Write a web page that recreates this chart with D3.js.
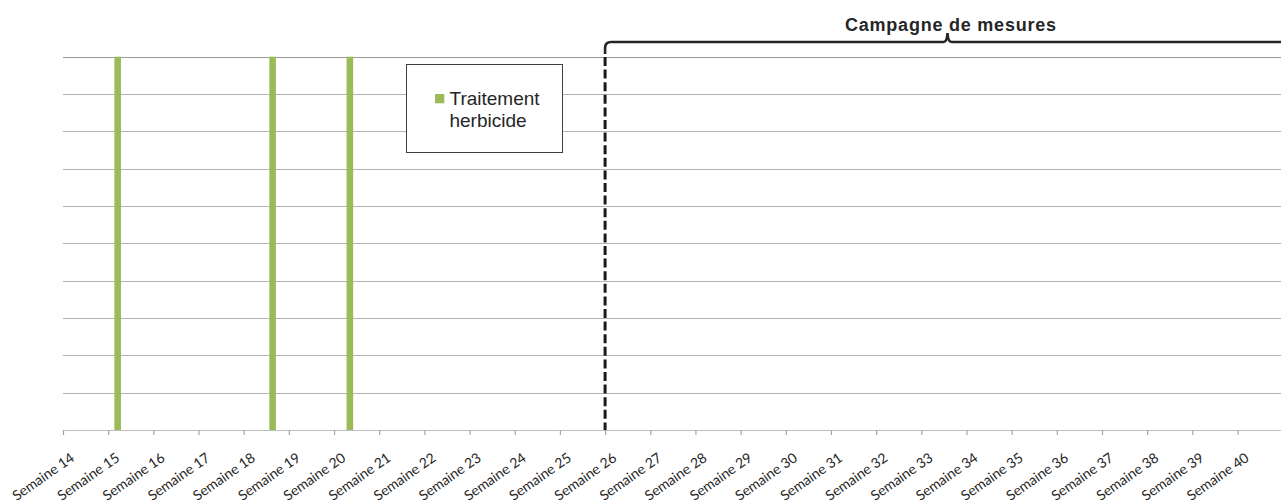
<!DOCTYPE html>
<html>
<head>
<meta charset="utf-8">
<script src="https://cdn.jsdelivr.net/npm/d3@7"></script>
<style>
  html, body { margin: 0; padding: 0; background: #fff; }
  svg { display: block; }
</style>
</head>
<body>
<svg id="chart" width="1281" height="503"></svg>
<script>
// Weeks shown on the category axis
const weeks = d3.range(14, 41);
const weekLabels = weeks.map(w => "Semaine " + w);

// Herbicide treatments (position in weeks) and their bar height
const treatmentWeeks = [15.21, 18.64, 20.35];
const treatmentValues = [1, 1, 1];

// Measurement campaign: start week and end of the bracket
const campaignStart = 26;
const campaignEnd = 41.16;
const campaignTitle = "Campagne de mesures";
const legendLabel = ["Traitement", "herbicide"];

const yTicks = d3.range(0, 1.0001, 0.1);

const W = 1281, H = 503;
const plot = { left: 63, right: 1282.7, top: 56.7, bottom: 430 };

const svg = d3.select("#chart");

const x = d3.scaleLinear().domain([14, 41]).range([plot.left, plot.right]);
const y = d3.scaleLinear().domain([0, 1]).range([plot.bottom, plot.top]);

// Horizontal gridlines
svg.append("g")
  .selectAll("line")
  .data(yTicks.slice(1))
  .join("line")
  .attr("x1", plot.left)
  .attr("x2", W)
  .attr("y1", d => Math.round(y(d)) + 0.5)
  .attr("y2", d => Math.round(y(d)) + 0.5)
  .attr("stroke", (d, i, a) => i === a.length - 1 ? "#9a9a9a" : "#b4b4b4")
  .attr("stroke-width", 1);

// Treatment bars
const barW = 6.6;
svg.append("g")
  .selectAll("rect")
  .data(treatmentWeeks)
  .join("rect")
  .attr("x", d => x(d) - barW / 2)
  .attr("y", (d, i) => y(treatmentValues[i]))
  .attr("width", barW)
  .attr("height", (d, i) => y(0) - y(treatmentValues[i]))
  .attr("fill", "#9BBB59");

// Category axis
const xAxis = d3.axisBottom(x)
  .tickValues(weeks)
  .tickSize(5)
  .tickFormat((d, i) => weekLabels[i]);

const gx = svg.append("g")
  .attr("transform", `translate(0,${plot.bottom})`)
  .call(xAxis);

gx.select(".domain")
  .attr("d", `M${plot.left},0.5H${W}`)
  .attr("stroke", "#bfbfbf")
  .attr("stroke-width", 1.2);
gx.selectAll(".tick line")
  .attr("stroke", "#a6a6a6")
  .attr("stroke-width", 1.2);
gx.selectAll(".tick text")
  .attr("font-family", "Lato, 'Open Sans', sans-serif")
  .attr("font-size", "14px")
  .attr("fill", "#262626")
  .attr("text-anchor", "end")
  .attr("dy", null)
  .attr("y", null)
  .attr("transform", "translate(12,30) rotate(-35)");

// Campaign start: dashed vertical line
const xs = x(campaignStart);
svg.append("line")
  .attr("x1", xs).attr("x2", xs)
  .attr("y1", 57).attr("y2", plot.bottom)
  .attr("stroke", "#1a1a1a")
  .attr("stroke-width", 3)
  .attr("stroke-dasharray", "9,3.6");

// Bracket over the campaign period
const xe = x(campaignEnd);
const xm = (xs + xe) / 2;
const by = 42;
const bracket = d3.path();
bracket.moveTo(xs, 54);
bracket.lineTo(xs, by + 6);
bracket.quadraticCurveTo(xs, by, xs + 6, by);
bracket.lineTo(xm - 4, by);
bracket.quadraticCurveTo(xm - 0.5, by, xm, by - 9);
bracket.quadraticCurveTo(xm + 0.5, by, xm + 4, by);
bracket.lineTo(xe, by);
svg.append("path")
  .attr("d", bracket.toString())
  .attr("fill", "none")
  .attr("stroke", "#262626")
  .attr("stroke-width", 2.6);

svg.append("text")
  .attr("x", xm + 3)
  .attr("y", 30.5)
  .attr("text-anchor", "middle")
  .attr("font-family", "'Liberation Sans', Arial, sans-serif")
  .attr("font-weight", "bold")
  .attr("font-size", "18px")
  .attr("fill", "#262626")
  .attr("textLength", 211)
  .attr("lengthAdjust", "spacing")
  .text(campaignTitle);

// Legend
const lg = svg.append("g");
lg.append("rect")
  .attr("x", 406.5).attr("y", 64.5)
  .attr("width", 156).attr("height", 88)
  .attr("fill", "#fff")
  .attr("stroke", "#404040")
  .attr("stroke-width", 1);
lg.append("rect")
  .attr("x", 435).attr("y", 94)
  .attr("width", 9.3).attr("height", 9.3)
  .attr("fill", "#9BBB59");
lg.append("text")
  .attr("x", 449.5).attr("y", 105)
  .attr("font-family", "'Liberation Sans', Arial, sans-serif")
  .attr("font-size", "19px")
  .attr("fill", "#262626")
  .text(legendLabel[0]);
lg.append("text")
  .attr("x", 488).attr("y", 126.7)
  .attr("text-anchor", "middle")
  .attr("font-family", "'Liberation Sans', Arial, sans-serif")
  .attr("font-size", "19px")
  .attr("fill", "#262626")
  .text(legendLabel[1]);
</script>
</body>
</html>
